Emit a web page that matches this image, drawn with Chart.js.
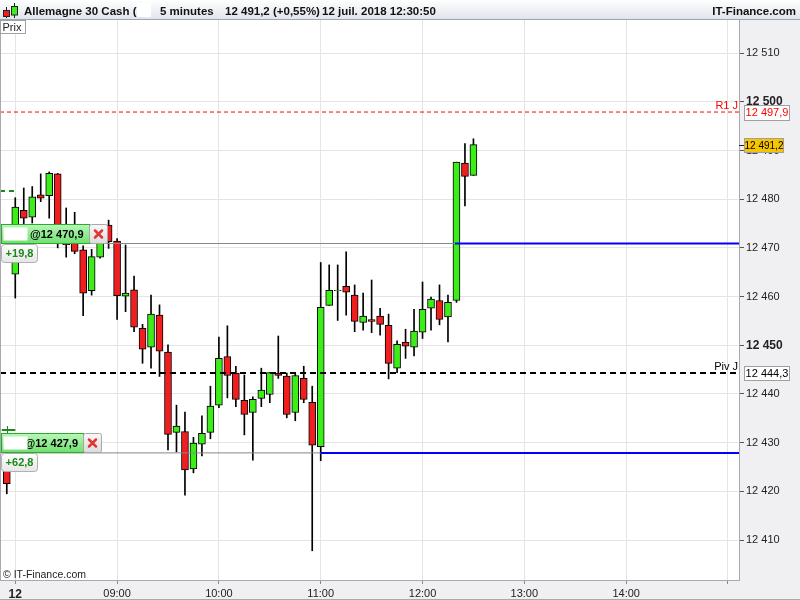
<!DOCTYPE html>
<html><head><meta charset="utf-8">
<script src="https://cdn.jsdelivr.net/npm/chart.js@4/dist/chart.umd.min.js"></script>
<style>html,body{margin:0;padding:0;background:#fff;overflow:hidden}#wrap{width:800px;height:600px;position:relative}</style>
</head><body><div id="wrap"><canvas id="c" width="800" height="600"></canvas></div>
<script>
// ---------- data ----------
const times = ['07:55','08:00','08:05','08:10','08:15','08:20','08:25','08:30','08:35','08:40','08:45','08:50','08:55',
 '09:00','09:05','09:10','09:15','09:20','09:25','09:30','09:35','09:40','09:45','09:50','09:55',
 '10:00','10:05','10:10','10:15','10:20','10:25','10:30','10:35','10:40','10:45','10:50','10:55',
 '11:00','11:05','11:10','11:15','11:20','11:25','11:30','11:35','11:40','11:45','11:50','11:55',
 '12:00','12:05','12:10','12:15','12:20','12:25','12:30'];
const openP = [12424.8,12464.6,12477.7,12476.3,12480.9,12480.7,12485.2,12471.0,12471.0,12469.6,12461.2,12468.1,12474.7,
 12471.4,12460.1,12461.4,12453.5,12449.6,12456.2,12448.6,12432.1,12432.3,12424.6,12429.7,12432.1,
 12437.7,12447.7,12444.3,12438.7,12436.2,12439.1,12439.9,12444.3,12443.7,12436.2,12443.2,12438.3,
 12429.2,12458.2,12461.2,12462.1,12460.3,12454.7,12455.3,12456.0,12454.1,12445.3,12450.6,12449.6,
 12452.7,12457.6,12459.2,12455.8,12459.2,12487.4,12484.9];
const highP = [12426.5,12480.3,12482.3,12482.6,12485.2,12485.6,12485.3,12478.2,12477.3,12470.4,12469.7,12472.0,12475.7,
 12471.9,12470.6,12464.2,12454.3,12460.3,12458.3,12450.1,12437.7,12436.3,12431.1,12435.5,12441.6,
 12451.7,12454.0,12445.7,12443.9,12439.4,12445.3,12444.4,12451.9,12444.3,12444.3,12445.7,12441.6,
 12467.0,12466.5,12466.5,12469.2,12462.4,12460.7,12463.4,12457.6,12456.4,12450.9,12453.3,12457.4,
 12463.0,12459.9,12462.4,12460.3,12487.6,12491.4,12492.4];
const lowP = [12419.5,12459.7,12474.7,12475.1,12479.5,12476.1,12470.0,12468.1,12468.8,12456.1,12460.3,12467.9,12469.9,
 12455.3,12456.9,12452.8,12446.3,12445.3,12443.6,12428.5,12428.1,12419.2,12423.8,12427.3,12430.8,
 12437.2,12439.2,12437.4,12431.6,12426.4,12437.4,12438.2,12443.2,12435.1,12434.5,12438.2,12407.8,
 12426.3,12458.2,12455.1,12456.2,12452.8,12453.1,12452.6,12452.1,12443.1,12444.4,12447.3,12447.8,
 12451.4,12453.1,12454.2,12450.7,12458.8,12478.6,12484.9];
const closeP = [12421.6,12478.4,12476.1,12480.5,12480.2,12485.3,12472.0,12470.6,12469.3,12460.7,12468.2,12471.0,12471.3,
 12460.2,12460.7,12453.7,12449.2,12456.4,12448.8,12431.7,12433.4,12424.4,12429.9,12431.9,12437.5,
 12447.3,12443.8,12438.9,12435.8,12438.9,12440.8,12444.4,12443.8,12435.8,12443.8,12438.9,12429.5,
 12457.8,12461.3,12461.3,12460.9,12454.9,12456.0,12454.9,12454.3,12446.3,12450.2,12449.8,12452.9,
 12457.4,12459.5,12455.3,12458.8,12487.6,12484.7,12491.2];

const yTicks = [12410,12420,12430,12440,12450,12460,12470,12480,12490,12500,12510];
const boldYTicks = [12450,12500];
const xTickTimes = ['08:00','09:00','10:00','11:00','12:00','13:00','14:00','15:00'];
const xTickLabels = ['12','09:00','10:00','11:00','12:00','13:00','14:00',''];

const R1 = 12497.9, PIVOT = 12444.3, LAST = 12491.2;
const orderPrices = [12470.9, 12427.9];
const orderTriggers = ['12:19', '11:00'];
const orderGains = ['+19,8', '+62,8'];
const markerDash = 12481.7, markerCross = 12432.6, markerTime = '07:55';

// ---------- helpers ----------
const F = "'Liberation Sans', Arial, sans-serif";
const tm = s => { const [h,m] = s.split(':').map(Number); return (h-8)*60 + m; };
const X_MIN = -9, X_MAX = 426.5, Y_MIN = 12401.8, Y_MAX = 12516.8;
const fmt = (v, dec) => { const s = v.toFixed(dec); const [a,b] = s.split('.'); const ai = a.replace(/\B(?=(\d{3})+(?!\d))/g,' '); return b ? ai + ',' + b : ai; };
const GREEN = '#3ded1a', RED = '#f01e1e';

const bodies = times.map((t,i) => ({x: tm(t), y: [openP[i], closeP[i]]}));
const wicks = times.map((t,i) => ({x: tm(t), y: [lowP[i], highP[i]]}));
const bodyColors = times.map((t,i) => closeP[i] >= openP[i] ? GREEN : RED);

const hline = (y, x0, x1, color, width, dash) => ({type:'line', data:[{x:x0,y},{x:x1,y}], borderColor:color, borderWidth:width, borderDash:dash||[], pointRadius:0, fill:false, order:0});

const datasets = [
  hline(R1, X_MIN, X_MAX, '#ff0000', 1, [4,3]),
  hline(PIVOT, X_MIN, X_MAX, '#000000', 2, [6,4]),
  hline(orderPrices[0], X_MIN, tm(orderTriggers[0]), '#888888', 1),
  hline(orderPrices[0], tm(orderTriggers[0]), X_MAX, '#0000ff', 2),
  hline(orderPrices[1], X_MIN, tm(orderTriggers[1]), '#888888', 1),
  hline(orderPrices[1], tm(orderTriggers[1]), X_MAX, '#0000ff', 2),
  hline(markerDash, X_MIN, tm('08:00'), '#1a8a1a', 2, [5,4]),
  hline(markerCross, X_MIN + 1, tm('08:00'), '#1a8a1a', 2),
  {type:'bar', data: bodies, backgroundColor: bodyColors, borderColor:'#000', borderWidth:1, borderSkipped:false, barThickness:7, grouped:false, order:1},
  {type:'bar', data: wicks, backgroundColor:'#000', borderWidth:0, barThickness:1, grouped:false, order:2}
];

function roundRect(ctx, x, y, w, h, r) {
  ctx.beginPath();
  ctx.moveTo(x+r, y); ctx.lineTo(x+w-r, y); ctx.quadraticCurveTo(x+w, y, x+w, y+r);
  ctx.lineTo(x+w, y+h-r); ctx.quadraticCurveTo(x+w, y+h, x+w-r, y+h);
  ctx.lineTo(x+r, y+h); ctx.quadraticCurveTo(x, y+h, x, y+h-r);
  ctx.lineTo(x, y+r); ctx.quadraticCurveTo(x, y, x+r, y); ctx.closePath();
}

const deco = {
  id:'deco',
  beforeDraw(chart) {
    const {ctx, chartArea:a} = chart;
    ctx.save();
    ctx.fillStyle = '#ffffff'; ctx.fillRect(0,0,800,600);
    ctx.fillStyle = '#f0f0f3';
    ctx.fillRect(a.right, a.top, 800 - a.right, 600 - a.top);
    ctx.fillRect(0, a.bottom, 800, 600 - a.bottom);
    ctx.restore();
  },
  afterDraw(chart) {
    const {ctx, chartArea:a} = chart;
    const xs = chart.scales.x, ys = chart.scales.y;
    ctx.save();
    // left border and bottom border
    ctx.strokeStyle = '#a8a8b0'; ctx.lineWidth = 1;
    ctx.beginPath(); ctx.moveTo(0.5, a.top); ctx.lineTo(0.5, a.bottom); ctx.stroke();
    ctx.beginPath(); ctx.moveTo(0, 599.5); ctx.lineTo(800, 599.5); ctx.stroke();
    // header
    const g = ctx.createLinearGradient(0,0,0,20);
    g.addColorStop(0,'#ffffff'); g.addColorStop(1,'#dfe3ea');
    ctx.fillStyle = g; ctx.fillRect(0,0,800,20);
    ctx.strokeStyle = '#a0a4ac'; ctx.beginPath(); ctx.moveTo(0,19.5); ctx.lineTo(800,19.5); ctx.stroke();
    // icon
    ctx.strokeStyle = '#222'; ctx.lineWidth = 1;
    ctx.beginPath(); ctx.moveTo(6.5,7); ctx.lineTo(6.5,18); ctx.moveTo(14.5,3); ctx.lineTo(14.5,18); ctx.stroke();
    ctx.fillStyle = RED; ctx.fillRect(3.5,10.5,6,6); ctx.strokeRect(3.5,10.5,6,6);
    ctx.fillStyle = GREEN; ctx.fillRect(11.5,6.5,6,8.5); ctx.strokeRect(11.5,6.5,6,8.5);
    ctx.fillStyle = '#111'; ctx.font = 'bold 11.5px ' + F; ctx.textBaseline = 'alphabetic'; ctx.textAlign = 'left';
    ctx.fillText('Allemagne 30 Cash (', 24, 15);
    ctx.fillText('5 minutes', 160, 15);
    ctx.fillText('12 491,2 (+0,55%)', 225, 15);
    ctx.fillText('12 juil. 2018 12:30:50', 322, 15);
    ctx.textAlign = 'right'; ctx.fillText('IT-Finance.com', 796, 15);
    ctx.fillStyle = '#ffffff'; ctx.fillRect(137, 3, 14, 14);
    // Prix box
    ctx.fillStyle = '#fff'; ctx.fillRect(0.5, 20.5, 25, 13);
    ctx.strokeStyle = '#a0a0a8'; ctx.strokeRect(0.5, 20.5, 25, 13);
    ctx.fillStyle = '#222'; ctx.font = '11px ' + F; ctx.textAlign = 'left'; ctx.textBaseline = 'middle';
    ctx.fillText('Prix', 2.5, 27.5);
    // level labels
    const yR1 = ys.getPixelForValue(R1), yPiv = ys.getPixelForValue(PIVOT), yLast = ys.getPixelForValue(LAST);
    ctx.font = '11px ' + F; ctx.textAlign = 'right'; ctx.textBaseline = 'alphabetic';
    ctx.fillStyle = '#ff0000'; ctx.fillText('R1 J', a.right - 1, yR1 - 3);
    ctx.fillStyle = '#000'; ctx.fillText('Piv J', a.right - 1, yPiv - 3);
    // axis value boxes
    const axBox = (y, w, h, fill, color, text, size) => {
      ctx.fillStyle = fill; ctx.fillRect(a.right + 5.5, Math.round(y - h/2) + 0.5, w, h);
      ctx.strokeStyle = '#a0a0a0'; ctx.lineWidth = 1; ctx.strokeRect(a.right + 5.5, Math.round(y - h/2) + 0.5, w, h);
      ctx.fillStyle = color; ctx.font = size + 'px ' + F; ctx.textAlign = 'center'; ctx.textBaseline = 'middle';
      ctx.fillText(text, a.right + 5.5 + w/2, Math.round(y) + 1);
    };
    axBox(yR1, 45, 15, '#ffffff', '#ff0000', fmt(R1,1), 11);
    ctx.strokeStyle = '#222'; ctx.beginPath(); ctx.moveTo(a.right, Math.round(yLast)+0.5); ctx.lineTo(a.right+5, Math.round(yLast)+0.5); ctx.stroke();
    axBox(yLast, 39, 14, '#f6c400', '#000', fmt(LAST,1), 10);
    axBox(yPiv, 45, 14, '#ffffff', '#000', fmt(PIVOT,1), 11);
    // order boxes
    const orderBox = (price, gain, greenW, textX) => {
      const yl = Math.round(ys.getPixelForValue(price));
      const top = yl - 19.5, h = 19;
      const gg = ctx.createLinearGradient(0, top, 0, top + h);
      gg.addColorStop(0, '#b8f7b8'); gg.addColorStop(1, '#6fe06f');
      ctx.fillStyle = gg; ctx.fillRect(1.5, top, greenW, h);
      ctx.strokeStyle = '#2fa82f'; ctx.lineWidth = 1; ctx.strokeRect(1.5, top, greenW, h);
      ctx.fillStyle = '#000'; ctx.font = 'bold 11px ' + F; ctx.textAlign = 'left'; ctx.textBaseline = 'middle';
      ctx.fillText('@' + fmt(price,1), textX, top + h/2 + 0.5);
      ctx.fillStyle = '#ffffff'; ctx.fillRect(3.5, top + 3, 24, 13);
      // X box
      const xb = 1.5 + greenW;
      const gx = ctx.createLinearGradient(0, top, 0, top + h);
      gx.addColorStop(0, '#f8f8f8'); gx.addColorStop(1, '#dcdcdc');
      ctx.fillStyle = gx; roundRect(ctx, xb, top, 18, h, 2); ctx.fill();
      ctx.strokeStyle = '#a8a8a8'; ctx.stroke();
      ctx.strokeStyle = '#e03535'; ctx.lineWidth = 2.5; ctx.lineCap = 'round';
      const cx = xb + 9, cy = top + h/2;
      ctx.beginPath(); ctx.moveTo(cx-3.5, cy-3.5); ctx.lineTo(cx+3.5, cy+3.5); ctx.moveTo(cx+3.5, cy-3.5); ctx.lineTo(cx-3.5, cy+3.5); ctx.stroke();
      ctx.lineCap = 'butt'; ctx.lineWidth = 1;
      // gain box
      const gt = yl + 0.5;
      const gb = ctx.createLinearGradient(0, gt, 0, gt + 18);
      gb.addColorStop(0, '#ffffff'); gb.addColorStop(1, '#e6e6e6');
      ctx.fillStyle = gb; roundRect(ctx, 1.5, gt, 36, 18, 3); ctx.fill();
      ctx.strokeStyle = '#b0b0b0'; ctx.stroke();
      ctx.fillStyle = '#178a17'; ctx.font = 'bold 11px ' + F; ctx.textAlign = 'center';
      ctx.fillText(gain, 19.5, gt + 9.5);
    };
    orderBox(orderPrices[0], orderGains[0], 88, 30);
    orderBox(orderPrices[1], orderGains[1], 82, 24.5);
    // cross marker vertical stroke
    const mx = Math.round(xs.getPixelForValue(tm(markerTime))) + 0.5, my = ys.getPixelForValue(markerCross);
    ctx.strokeStyle = '#1a8a1a'; ctx.lineWidth = 1;
    ctx.beginPath(); ctx.moveTo(mx, my - 4); ctx.lineTo(mx, my + 3); ctx.stroke();
    // copyright
    ctx.fillStyle = '#222'; ctx.font = '10.5px ' + F; ctx.textAlign = 'left'; ctx.textBaseline = 'alphabetic';
    ctx.fillText('\u00a9 IT-Finance.com', 3, 578);
    ctx.restore();
  }
};

new Chart(document.getElementById('c'), {
  type: 'bar',
  data: { datasets },
  plugins: [deco],
  options: {
    responsive: false, animation: false,
    layout: { padding: { top: 20, left: 0, right: 0, bottom: 0 } },
    plugins: { legend: { display: false }, tooltip: { enabled: false } },
    scales: {
      x: {
        type: 'linear', position: 'bottom', min: X_MIN, max: X_MAX, offset: false,
        afterBuildTicks: s => { s.ticks = xTickTimes.map(t => ({ value: tm(t) })); },
        afterFit: s => { s.height = 20; },
        ticks: {
          autoSkip: false, maxRotation: 0, minRotation: 0, padding: 3, color: '#222',
          font: c => (c.tick && c.tick.value === 0) ? { family: F, size: 12, weight: 'bold' } : { family: F, size: 11 },
          callback: (v, i) => xTickLabels[i]
        },
        grid: { color: '#e4e4e4', tickColor: '#8a8a8a', tickLength: 4, offset: false },
        border: { color: '#a8a8b0', width: 1 }
      },
      y: {
        type: 'linear', position: 'right', min: Y_MIN, max: Y_MAX,
        afterBuildTicks: s => { s.ticks = yTicks.map(v => ({ value: v })); },
        afterFit: s => { s.width = 61; },
        ticks: {
          padding: 2, color: '#222',
          font: c => (c.tick && boldYTicks.includes(c.tick.value)) ? { family: F, size: 12, weight: 'bold' } : { family: F, size: 11 },
          callback: v => fmt(v, 0)
        },
        grid: { color: '#e4e4e4', tickColor: '#555', tickLength: 5 },
        border: { color: '#a8a8b0', width: 1 }
      }
    }
  }
});
</script></body></html>
